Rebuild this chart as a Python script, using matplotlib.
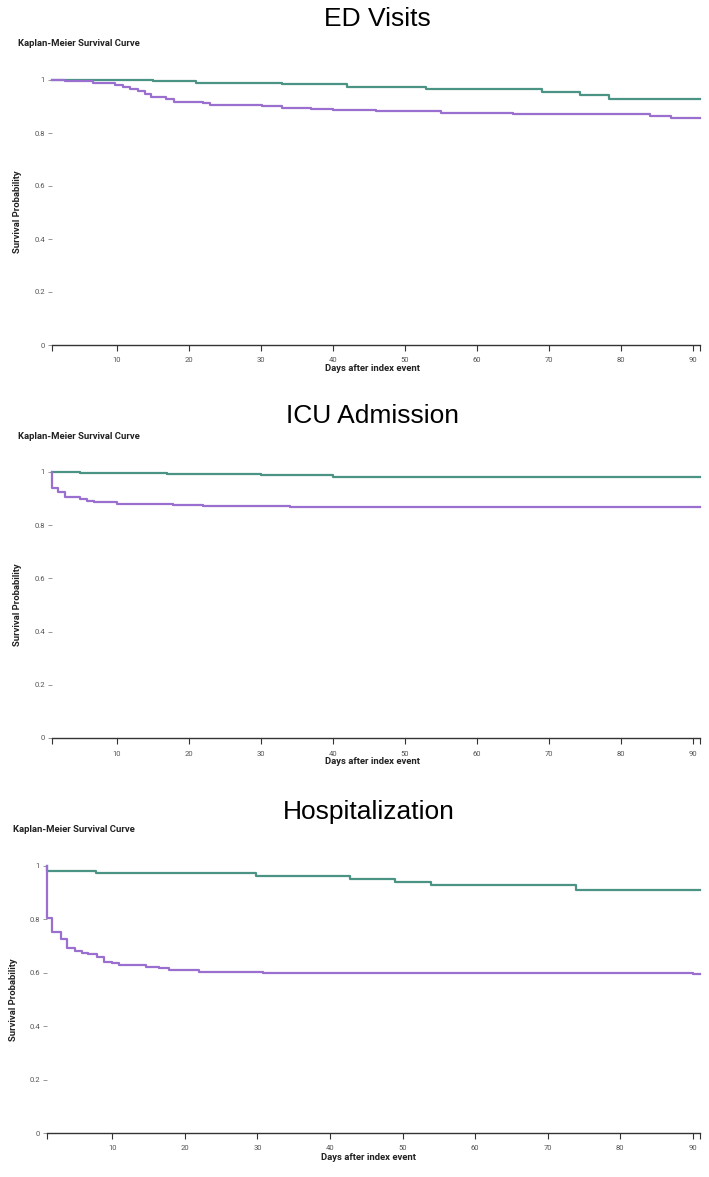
import matplotlib
matplotlib.use("Agg")
import matplotlib.pyplot as plt

W, H = 709, 1177

# ---------------- data ----------------
titles = ["ED Visits", "ICU Admission", "Hospitalization"]
y_ticks = [0, 0.2, 0.4, 0.6, 0.8, 1.0]
y_tick_labels = ["0", "0.2", "0.4", "0.6", "0.8", "1"]
x_ticks = [10, 20, 30, 40, 50, 60, 70, 80, 90]

ed_green_t = [1, 15, 21, 33, 42, 53, 69, 74.3, 78.3, 91]
ed_green_s = [1.0, 0.996, 0.99, 0.984, 0.975, 0.966, 0.955, 0.943, 0.928, 0.928]
ed_purple_t = [1, 2.8, 6.7, 7.9, 9.7, 10.9, 11.8, 13, 13.9, 14.8, 16.9, 18, 22, 22.9,
               30.1, 33, 37, 40, 46, 55, 65, 84, 87, 91]
ed_purple_s = [1.0, 0.997, 0.99, 0.988, 0.981, 0.975, 0.966, 0.958, 0.947, 0.937, 0.928,
               0.917, 0.912, 0.907, 0.903, 0.896, 0.89, 0.887, 0.882, 0.877, 0.871,
               0.863, 0.857, 0.857]

icu_green_t = [1, 4.9, 17, 30, 40, 91]
icu_green_s = [1.0, 0.995, 0.992, 0.988, 0.983, 0.983]
icu_purple_t = [1, 1, 1.8, 2.8, 4.9, 5.8, 6.9, 10, 17.8, 22, 34, 91]
icu_purple_s = [1.0, 0.94, 0.923, 0.906, 0.898, 0.892, 0.889, 0.881, 0.877, 0.874,
                0.868, 0.868]

hosp_green_t = [1, 1, 7.8, 29.8, 42.8, 48.9, 53.9, 73.9, 91]
hosp_green_s = [1.0, 0.981, 0.975, 0.964, 0.953, 0.94, 0.928, 0.91, 0.91]
hosp_purple_t = [1, 1, 1.7, 2.9, 3.8, 4.8, 5.8, 6.7, 7.9, 8.8, 9.9, 10.9, 14.6, 16.4,
                 17.8, 21.9, 30.8, 90, 91]
hosp_purple_s = [1.0, 0.806, 0.754, 0.727, 0.694, 0.682, 0.675, 0.669, 0.66, 0.642,
                 0.636, 0.629, 0.623, 0.617, 0.609, 0.604, 0.599, 0.594, 0.594]

GREEN = "#4b9384"
PURPLE = "#9a6fd0"

fig = plt.figure(figsize=(W / 100, H / 100), dpi=100)
fig.patch.set_facecolor("white")


def add_ax(left, right, top, bottom):
    return fig.add_axes([left / W, 1 - bottom / H, (right - left) / W, (bottom - top) / H])


def ftext(x, y, s, **kw):
    fig.text(x / W, 1 - y / H, s, **kw)


panels = [
    dict(box=(52, 700, 80, 345), title=(377, 19), km=(18, 44), ylab=(18, 212), xlab=(372, 368),
         g=(ed_green_t, ed_green_s), p=(ed_purple_t, ed_purple_s)),
    dict(box=(52, 700, 472, 738), title=(373, 416), km=(18, 437), ylab=(18, 605), xlab=(372, 762),
         g=(icu_green_t, icu_green_s), p=(icu_purple_t, icu_purple_s)),
    dict(box=(47, 700, 866, 1133), title=(369, 812), km=(13, 829), ylab=(14, 1000), xlab=(368, 1157),
         g=(hosp_green_t, hosp_green_s), p=(hosp_purple_t, hosp_purple_s)),
]

for title, pn in zip(titles, panels):
    ax = add_ax(*pn["box"])
    ax.set_xlim(1, 91)
    ax.set_ylim(0, 1)
    ax.step(pn["g"][0], pn["g"][1], where="post", color=GREEN, lw=1.6, clip_on=False)
    ax.step(pn["p"][0], pn["p"][1], where="post", color=PURPLE, lw=1.6, clip_on=False)
    for sp in ["top", "right", "left"]:
        ax.spines[sp].set_visible(False)
    ax.spines["bottom"].set_color("#333333")
    ax.spines["bottom"].set_linewidth(1.0)
    ax.set_xticks([1] + x_ticks + [91])
    ax.set_xticklabels([""] + [str(v) for v in x_ticks] + [""])
    ax.tick_params(axis="x", direction="out", length=4, width=0.8, color="#333333",
                   labelsize=5.5, labelcolor="#555555", pad=5)
    ax.set_yticks(y_ticks)
    ax.set_yticklabels(y_tick_labels)
    ax.tick_params(axis="y", direction="out", length=3, width=0.6, color="#888888",
                   labelsize=5.5, labelcolor="#555555", pad=2)
    for lab in ax.get_xticklabels() + ax.get_yticklabels():
        lab.set_fontfamily("Roboto")

    ftext(*pn["title"], title, ha="center", va="center", fontsize=19,
          family="Liberation Sans", color="black")
    ftext(*pn["km"], "Kaplan-Meier Survival Curve", ha="left", va="center", fontsize=6.8,
          family="Roboto", weight="bold", color="#222222")
    ftext(*pn["ylab"], "Survival Probability", ha="center", va="center", rotation=90,
          fontsize=6.8, family="Roboto", weight="bold", color="#222222")
    ftext(*pn["xlab"], "Days after index event", ha="center", va="center",
          fontsize=6.8, family="Roboto", weight="bold", color="#222222")

fig.savefig("out.png", dpi=100, facecolor="white")
